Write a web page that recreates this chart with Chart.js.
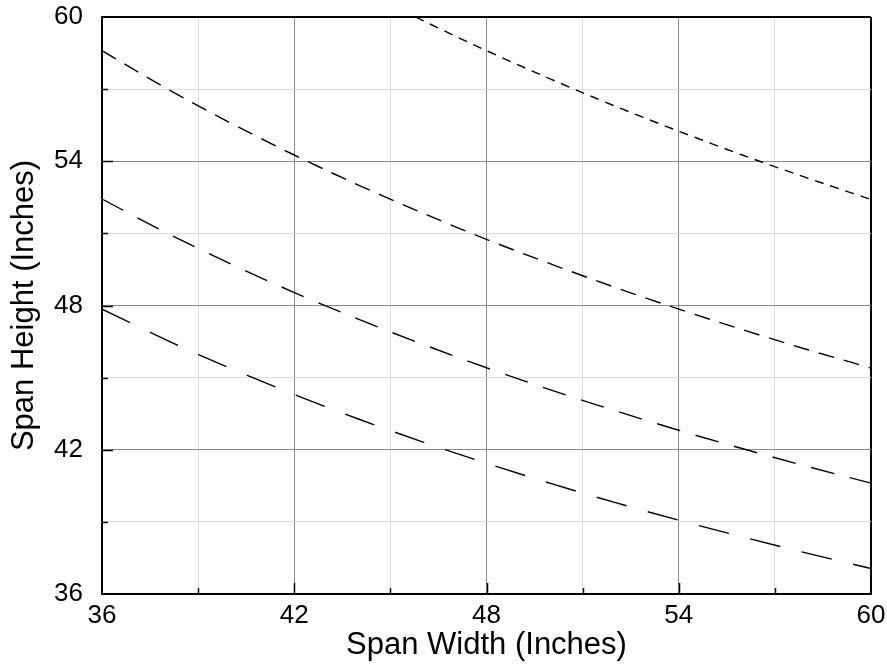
<!DOCTYPE html>
<html lang="en">
<head>
  <meta charset="UTF-8">
  <title>Span Height vs Span Width</title>
  <script src="https://cdn.jsdelivr.net/npm/chart.js"></script>
  <style>
    body { margin: 0; background: #fff; }
    #wrap { width: 887px; height: 664px; }
  </style>
</head>
<body>
  <div id="wrap">
    <canvas id="spanChart" width="887" height="664"></canvas>
  </div>
<script>
  // values, every 2 inches of span width
  const spanWidth = [36, 38, 40, 42, 44, 46, 48, 50, 52, 54, 56, 58, 60];
  const curveShort  = [null, null, null, null, 61.20, 59.86, 58.60, 57.42, 56.30, 55.25, 54.25, 53.31, 52.41];
  const curveMedium = [58.60, 57.04, 55.60, 54.26, 53.01, 51.85, 50.75, 49.73, 48.76, 47.85, 46.99, 46.17, 45.40];
  const curveLong   = [52.43, 51.03, 49.74, 48.54, 47.43, 46.39, 45.41, 44.49, 43.63, 42.81, 42.04, 41.31, 40.61];
  const curveLonger = [47.85, 46.57, 45.39, 44.30, 43.28, 42.33, 41.44, 40.60, 39.81, 39.07, 38.37, 37.70, 37.06];

  const xMin = 36, xMax = 60, yMin = 36, yMax = 60;

  function toPoints(values) {
    return spanWidth.map((w, i) => ({ x: w, y: values[i] }));
  }

  function lineSet(values, dash) {
    return {
      data: toPoints(values),
      borderColor: '#000',
      borderWidth: 1.4,
      borderDash: dash,
      pointRadius: 0,
      fill: false,
      cubicInterpolationMode: 'monotone'
    };
  }

  function gridColor(ctx) {
    const v = ctx.tick.value;
    if (v === 36 || v === 60) return '#000';
    return v % 6 === 0 ? '#8a8a8a' : '#dcdcdc';
  }
  function gridWidth(ctx) {
    const v = ctx.tick.value;
    return (v === 36 || v === 60) ? 2 : 1;
  }

  // small tick marks pointing into the plot
  const innerTicks = {
    id: 'innerTicks',
    afterDraw(chart) {
      const { ctx, chartArea, scales } = chart;
      ctx.save();
      ctx.strokeStyle = '#000';
      ctx.lineWidth = 1.5;
      for (let v = 39; v < 60; v += 3) {
        const len = v % 6 === 0 ? 11 : 6;
        const px = Math.round(scales.x.getPixelForValue(v)) + 0.5;
        ctx.beginPath();
        ctx.moveTo(px, chartArea.bottom);
        ctx.lineTo(px, chartArea.bottom - len);
        ctx.stroke();
        const py = Math.round(scales.y.getPixelForValue(v)) + 0.5;
        ctx.beginPath();
        ctx.moveTo(chartArea.left, py);
        ctx.lineTo(chartArea.left + len, py);
        ctx.stroke();
      }
      ctx.restore();
    }
  };

  const ctx = document.getElementById('spanChart').getContext('2d');
  const spanChart = new Chart(ctx, {
    type: 'line',
    data: {
      datasets: [
        lineSet(curveShort, [9, 7]),
        lineSet(curveMedium, [16, 10]),
        lineSet(curveLong, [24, 16]),
        lineSet(curveLonger, [31, 22])
      ]
    },
    plugins: [innerTicks],
    options: {
      responsive: false,
      animation: false,
      layout: { padding: 0 },
      plugins: {
        legend: { display: false },
        tooltip: { enabled: false }
      },
      scales: {
        x: {
          type: 'linear',
          min: xMin,
          max: xMax,
          afterBuildTicks(scale) {
            scale.ticks = [];
            for (let v = xMin; v <= xMax; v += 3) scale.ticks.push({ value: v });
          },
          afterFit(scale) {
            scale.height = 70;
            scale.paddingLeft = 0;
            scale.paddingRight = 16;
          },
          ticks: {
            padding: 6,
            maxRotation: 0,
            autoSkip: false,
            color: '#000',
            font: { family: 'Liberation Sans, Arial, sans-serif', size: 26 },
            callback: v => (v % 6 === 0 ? String(v) : '')
          },
          grid: { color: gridColor, lineWidth: gridWidth, drawTicks: false },
          border: { color: '#000', width: 2 },
          title: {
            display: true,
            text: 'Span Width (Inches)',
            color: '#000',
            font: { family: 'Liberation Sans, Arial, sans-serif', size: 31 },
            padding: { top: 0, bottom: 0 }
          }
        },
        y: {
          type: 'linear',
          min: yMin,
          max: yMax,
          afterBuildTicks(scale) {
            scale.ticks = [];
            for (let v = yMin; v <= yMax; v += 3) scale.ticks.push({ value: v });
          },
          afterFit(scale) {
            scale.width = 102;
            scale.paddingTop = 17;
            scale.paddingBottom = 0;
          },
          ticks: {
            padding: 19,
            autoSkip: false,
            color: '#000',
            font: { family: 'Liberation Sans, Arial, sans-serif', size: 26 },
            callback: v => (v % 6 === 0 ? String(v) : '')
          },
          grid: { color: gridColor, lineWidth: gridWidth, drawTicks: false },
          border: { color: '#000', width: 2 },
          title: {
            display: true,
            text: 'Span Height (Inches)',
            color: '#000',
            font: { family: 'Liberation Sans, Arial, sans-serif', size: 31 },
            padding: { top: 6, bottom: 0 }
          }
        }
      }
    }
  });
</script>
</body>
</html>
